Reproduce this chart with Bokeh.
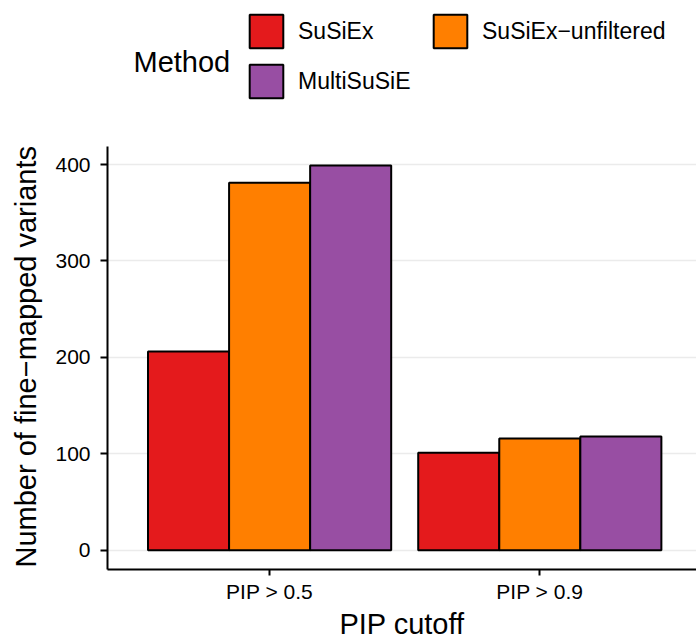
import numpy as np
from bokeh.plotting import figure
from bokeh.models import (ColumnDataSource, Range1d, FixedTicker, Legend,
                          LegendItem, Label, Title)
from bokeh.transform import dodge
from bokeh.embed import file_html
from bokeh.resources import INLINE

# ---------------- data ----------------
cutoffs = ["PIP > 0.5", "PIP > 0.9"]
methods = ["SuSiEx", "SuSiEx\u2212unfiltered", "MultiSuSiE"]
susiex = [206, 101]
susiex_unfiltered = [381, 116]
multisusie = [399, 118]
method_colors = ["#E41A1C", "#FF7F00", "#984EA3"]
y_ticks = [0, 100, 200, 300, 400]

x_title = "PIP cutoff"
y_title = "Number of fine\u2212mapped variants"
legend_title = "Method"

FONT = "Liberation Sans"

# ---------------- layout constants (pixels) ----------------
W, H = 696, 642
LEFT, BOTTOM = 107, 72          # borders holding the axes
PANEL_TOP = 146                 # where the data panel starts (legend above it)
frame_h = H - BOTTOM            # frame spans whole height; legend sits in its top

# ---------------- scales ----------------
pos = np.arange(1, len(cutoffs) + 1)
series = [susiex, susiex_unfiltered, multisusie]
ymax = max(max(s) for s in series)
ypad = 0.05 * ymax
y_lo, y_hi = -ypad, ymax + ypad
px_per_unit = (frame_h - PANEL_TOP) / (y_hi - y_lo)
y_view_top = y_hi + PANEL_TOP / px_per_unit

bar_w = 0.9 / len(methods)
offsets = [(i - (len(methods) - 1) / 2) * bar_w for i in range(len(methods))]

src = ColumnDataSource(dict(x=pos, susiex=susiex,
                            unfilt=susiex_unfiltered, multi=multisusie))
cols = ["susiex", "unfilt", "multi"]

p = figure(width=W, height=H, title=None,
           x_range=Range1d(pos[0] - 0.6, pos[-1] + 0.58),
           y_range=Range1d(y_lo, y_view_top),
           output_backend="svg", toolbar_location=None,
           min_border_left=LEFT, min_border_right=0,
           min_border_top=0, min_border_bottom=BOTTOM)
p.outline_line_color = None
p.background_fill_color = "white"

renderers = []
for col, off, color in zip(cols, offsets, method_colors):
    r = p.vbar(x=dodge("x", off), top=col, bottom=0, width=bar_w, source=src,
               fill_color=color, line_color="black", line_width=2)
    renderers.append(r)

# grid
p.xgrid.visible = False
p.ygrid.ticker = FixedTicker(ticks=y_ticks)
p.ygrid.grid_line_color = "#EBEBEB"
p.ygrid.grid_line_width = 1.6

# axes
for ax in (p.xaxis[0], p.yaxis[0]):
    ax.axis_line_color = "black"
    ax.axis_line_width = 2
    ax.major_tick_line_color = "black"
    ax.major_tick_line_width = 2
    ax.major_tick_in = 0
    ax.minor_tick_line_color = None
    ax.major_label_text_font = FONT
    ax.major_label_text_font_size = "21px"
    ax.major_label_text_color = "black"
    ax.axis_label_text_font = FONT
    ax.axis_label_text_font_size = "29px"
    ax.axis_label_text_font_style = "normal"
    ax.axis_label_text_color = "black"

p.xaxis.ticker = FixedTicker(ticks=[float(v) for v in pos])
p.xaxis.major_label_overrides = {float(v): c for v, c in zip(pos, cutoffs)}
p.xaxis.major_tick_out = 6
p.xaxis.major_label_standoff = 4
p.xaxis.axis_label = x_title
p.xaxis.axis_label_standoff = 2

yax = p.yaxis[0]
yax.ticker = FixedTicker(ticks=y_ticks)
yax.bounds = (y_lo, y_hi)
yax.major_tick_out = 7
yax.major_label_standoff = 10

# y title: side title starting at the bottom of the panel, reading upward
p.add_layout(Title(text=y_title, align="left", vertical_align="top",
                   offset=2, standoff=18, text_font=FONT,
                   text_font_size="29px", text_font_style="normal",
                   text_color="black"), "left")

# legend (drawn in the top of the frame, above the data panel)
GLYPH, SPACING = 42, 8
legend = Legend(items=[LegendItem(label=m, renderers=[r])
                       for m, r in zip(methods, renderers)],
                location=(138, frame_h - 11 - (2 * GLYPH + SPACING)),
                orientation="horizontal", ncols=2,
                glyph_width=GLYPH, glyph_height=GLYPH, label_standoff=11,
                label_width=123, spacing=SPACING, padding=0, margin=0,
                border_line_color=None, background_fill_alpha=0,
                label_text_font=FONT, label_text_font_size="23px",
                label_text_color="black")
p.add_layout(legend, "center")

p.add_layout(Label(x=26, x_units="screen", y=frame_h - 62, y_units="screen",
                   text=legend_title, text_align="left",
                   text_baseline="alphabetic", text_font=FONT,
                   text_font_size="29px", text_color="black"))

open("out.html", "w").write(file_html(p, INLINE))
